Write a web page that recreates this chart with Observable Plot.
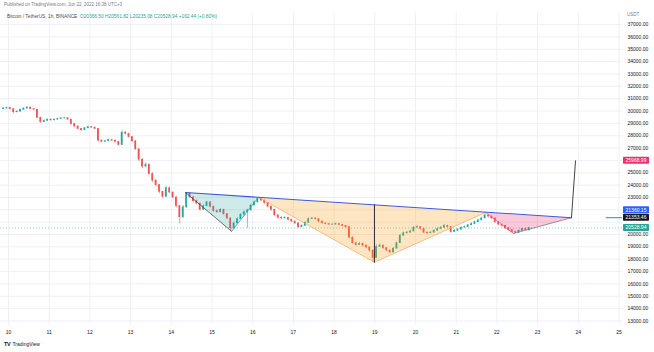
<!DOCTYPE html>
<html><head><meta charset="utf-8">
<script src="https://cdn.jsdelivr.net/npm/d3@7"></script>
<script src="https://cdn.jsdelivr.net/npm/@observablehq/plot@0.6"></script>
<style>
body{margin:0;background:#fff;font-family:"Liberation Sans",Arial,sans-serif;}
#wrap{position:relative;width:654px;height:352px;overflow:hidden;background:#fff}
#chart{position:absolute;left:0;top:0}
.t{position:absolute;white-space:nowrap;line-height:1}
.pub{left:4px;top:3px;font-size:4.5px;color:#787b86}
.sym{left:7px;top:15px;font-size:4.8px;color:#4a4e59}
.sym .g{color:#26a69a}
.usdt{left:627px;top:13px;font-size:4.5px;color:#787b86}
.foot{left:4px;top:342px;font-size:5px;color:#131722}
.foot b{font-size:5.5px;margin-right:2px;letter-spacing:-0.3px}
</style></head><body>
<div id="wrap">
<div id="chart"></div>
<div class="t pub">Published on TradingView.com, Jun 22, 2022 16:38 UTC+3</div>
<div class="t sym">Bitcoin / TetherUS, 1h, BINANCE&nbsp; <span class="g">O20366.50 H20561.82 L20235.08 C20528.94 +162.44 (+0.80%)</span></div>
<div class="t usdt">USDT</div>
<div class="t foot"><b>TV</b>TradingView</div>
</div>
<script>
// ---- data (2-hour candles starting Jun 9 20:00) ----
const firstOpen = 30150;
const closes = [30200,30250,30150,29900,29950,30100,30200,30280,30150,30100,
29450,29100,29200,29300,29250,29300,29350,29400,29420,29300,
28950,28750,28550,28450,28600,28700,28650,28550,27600,27500,
27550,27650,27600,27500,27250,28250,28150,27900,27550,26900,
26050,25500,25650,24900,24350,24000,23450,23050,23750,23400,
23000,22300,21400,22200,23300,23000,22700,22500,22000,22300,
22600,22250,21900,21800,22000,21650,21300,20500,20900,21250,
21600,21800,21950,22350,22600,22900,22750,22550,22250,22000,
21550,21350,21300,21350,21200,21050,20900,20600,20700,20950,
21250,21300,21250,21050,20900,20850,20800,20800,20850,20780,
20700,20600,19750,19300,19150,19250,19100,18950,18700,18100,
19000,19100,18900,18700,18550,18850,19300,19900,20100,20150,
20250,20550,20600,20450,20150,20100,20150,20300,20450,20550,
20700,20600,20200,20300,20400,20550,20600,20750,20850,21000,
21150,21300,21550,21450,21300,21000,20800,20700,20500,20350,
20200,20150,20300,20450,20366.5,20528.94];
const highs = [30280,30320,30300,30200,30020,30150,30260,30350,30300,30200,
30120,29500,29280,29350,29380,29360,29420,29460,29500,29450,
29320,29000,28800,28600,28680,28780,28750,28700,28580,27680,
27620,27720,27700,27650,27550,28400,28350,28200,27950,27600,
26950,26150,25800,25700,25000,24450,24050,23500,23900,23850,
23450,23050,22350,22350,23400,23380,23100,22800,22550,22400,
22700,22650,22300,22000,22100,22050,21700,21350,21000,21350,
21700,21900,22050,22450,22700,23000,22950,22800,22600,22300,
22050,21600,21450,21450,21400,21250,21100,20950,20800,21050,
21350,21400,21380,21300,21100,20950,20900,20880,20920,20900,
20820,20750,20650,19800,19350,19350,19300,19150,19000,18750,
19150,19250,19150,18950,18750,18950,19400,20000,20200,20250,
20350,20650,20750,20650,20500,20200,20250,20400,20550,20650,
20800,20750,20650,20400,20480,20620,20700,20820,20950,21100,
21250,21400,21750,21600,21500,21350,21050,20850,20750,20550,
20400,20250,20380,20500,20520,20561.82];
const lows = [30100,30150,30080,29780,29850,29900,30050,30150,30100,30020,
29350,29000,29050,29150,29180,29200,29250,29300,29350,29250,
28850,28650,28450,28350,28400,28550,28580,28500,27500,27420,
27450,27500,27520,27420,27150,27200,28050,27800,27450,26800,
25900,25350,25400,24800,24200,23850,23300,22900,23000,23300,
22900,22150,20850,21300,22100,22900,22600,22400,21900,21950,
22250,22150,21800,21700,21750,21550,21200,20250,20400,20850,
21200,21500,20500,21900,22300,22550,22650,22450,22150,21900,
21450,21250,21200,21250,21100,20950,20800,20500,20550,20650,
20900,21200,21150,20950,20850,20780,20730,20720,20760,20700,
20620,20500,19650,19200,19050,19100,19000,18850,18550,17750,
18050,18950,18800,18600,18450,18500,18800,19250,19850,20050,
20100,20200,20500,20350,20050,20000,20050,20100,20250,20400,
20500,20500,20100,20150,20250,20350,20500,20550,20700,20800,
20950,21100,21250,21350,21200,20900,20700,20600,20400,20250,
20120,20080,20100,20250,20300,20235.08];

// pattern drawings (hours from Jun 10 00:00, prices)
const lsHours = [104.4,131.6,147.4],   lsPrices = [23400,20250,23010];
const headHours = [147.4,215.8,281.3], headPrices = [23010,17750,21790];
const rsHours = [281.3,297.8,332.0],   rsPrices = [21790,20080,21360.15];
const neckHours = [104.4,332.0],       neckPrices = [23400,21360.15];
const depthHours = [215.8,215.8],      depthPrices = [22400,17750];
const targetHours = [332.0,334.4],     targetPrices = [21360.15,25968.99];
const rayStartHour = 352.6, rayPrice = 21360.15;

const tickPrices = [13000,14000,15000,16000,17000,18000,19000,20000,23000,24000,25000,27000,28000,29000,30000,31000,32000,33000,34000,35000,36000,37000];
const gridPrices = d3.range(13000,38000,1000);
const tagPrices = [20528.94,21353.46,21360.15,25968.99];
const tagColors = ["#26a69a","#131722","#2962ff","#f0306d"];

// ---- build ----
const HR = 3600e3, base = Date.UTC(2022,5,10);
const T = h => new Date(base + h*HR);
const bars = closes.map((c,i)=>{
  const h0 = -4 + 2*i;
  const o = i===0 ? firstOpen : closes[i-1];
  return {b1:T(h0+0.5), b2:T(h0+1.5), tm:T(h0+1), o, c, hi:highs[i], lo:lows[i], up:c>=o};
});
const pts = (hs,ps)=>hs.map((h,i)=>({t:T(h),p:ps[i]}));
const ls=pts(lsHours,lsPrices), hd=pts(headHours,headPrices), rs=pts(rsHours,rsPrices);
const days = d3.utcDays(Date.UTC(2022,5,10), Date.UTC(2022,5,26));
const up="#26a69a", dn="#ef5350";

const chart = Plot.plot({
  width:654, height:352,
  marginTop:12, marginBottom:27, marginLeft:0, marginRight:32,
  style:{fontFamily:"Liberation Sans, Arial, sans-serif", fontSize:"5px", color:"#131722", background:"#fff"},
  x:{type:"utc", domain:[T(-4.72),T(362.1)]},
  y:{domain:[12632,37976]},
  marks:[
    Plot.gridY(gridPrices,{stroke:"#eef0f6",strokeOpacity:1}),
    Plot.gridX(days,{stroke:"#eef0f6",strokeOpacity:1}),
    Plot.axisY(tickPrices,{anchor:"right",tickSize:0,tickPadding:5,tickFormat:d=>d.toFixed(2),label:null,fill:"#131722"}),
    Plot.axisX(days,{anchor:"bottom",tickSize:0,tickPadding:5,tickFormat:d3.utcFormat("%-d"),label:null,fill:"#131722"}),
    Plot.ruleY([closes[closes.length-1]],{stroke:up,strokeDasharray:"1,2",strokeOpacity:0.8,strokeWidth:0.7}),
    Plot.ruleX(bars,{x:"tm",y1:"lo",y2:"hi",stroke:d=>d.up?up:dn,strokeWidth:0.6}),
    Plot.rect(bars,{x1:"b1",x2:"b2",y1:"o",y2:"c",fill:d=>d.up?up:dn,insetTop:-0.3,insetBottom:-0.3}),
    Plot.line(ls,{x:"t",y:"p",fill:up,fillOpacity:0.22,stroke:"none"}),
    Plot.line(hd,{x:"t",y:"p",fill:"#ff9800",fillOpacity:0.24,stroke:"none"}),
    Plot.line(rs,{x:"t",y:"p",fill:"#e91e63",fillOpacity:0.24,stroke:"none"}),
    Plot.line(ls.slice(0,2),{x:"t",y:"p",stroke:"#363a45",strokeWidth:0.7}),
    Plot.line(ls.slice(1),{x:"t",y:"p",stroke:up,strokeWidth:0.7}),
    Plot.line(hd,{x:"t",y:"p",stroke:"#f5a55a",strokeWidth:0.7}),
    Plot.line(rs.slice(0,2),{x:"t",y:"p",stroke:"#e9578a",strokeWidth:0.7}),
    Plot.line(rs.slice(1),{x:"t",y:"p",stroke:"#6b6f80",strokeWidth:0.7}),
    Plot.line(pts(neckHours,neckPrices),{x:"t",y:"p",stroke:"#3d5bd6",strokeWidth:1.1}),
    Plot.line(pts(depthHours,depthPrices),{x:"t",y:"p",stroke:"#131722",strokeWidth:0.9}),
    Plot.line(pts(targetHours,targetPrices),{x:"t",y:"p",stroke:"#434651",strokeWidth:1}),
    Plot.ruleY([rayPrice],{x1:T(rayStartHour),x2:T(362.1),stroke:"#2962ff",strokeWidth:0.9})
  ]
});
document.getElementById("chart").appendChild(chart);

// price tags on the price scale, positioned with the plot's y scale
const ys = chart.scale("y");
const svg = d3.select(chart);
const placed = [];
tagPrices.forEach((p,i)=>{
  let y = ys.apply(p);
  for (const q of placed) if (Math.abs(q-y) < 7.5) y = q - 7.5;
  placed.push(y);
  svg.append("rect").attr("x",623).attr("y",y-3.5).attr("width",26).attr("height",7).attr("rx",0.8).attr("fill",tagColors[i]);
  svg.append("text").attr("x",636).attr("y",y).attr("dy","0.35em").attr("text-anchor","middle")
     .attr("fill","#fff").attr("font-size","5px").attr("font-family","Liberation Sans, Arial, sans-serif").text(p.toFixed(2));
});
</script>
</body></html>
